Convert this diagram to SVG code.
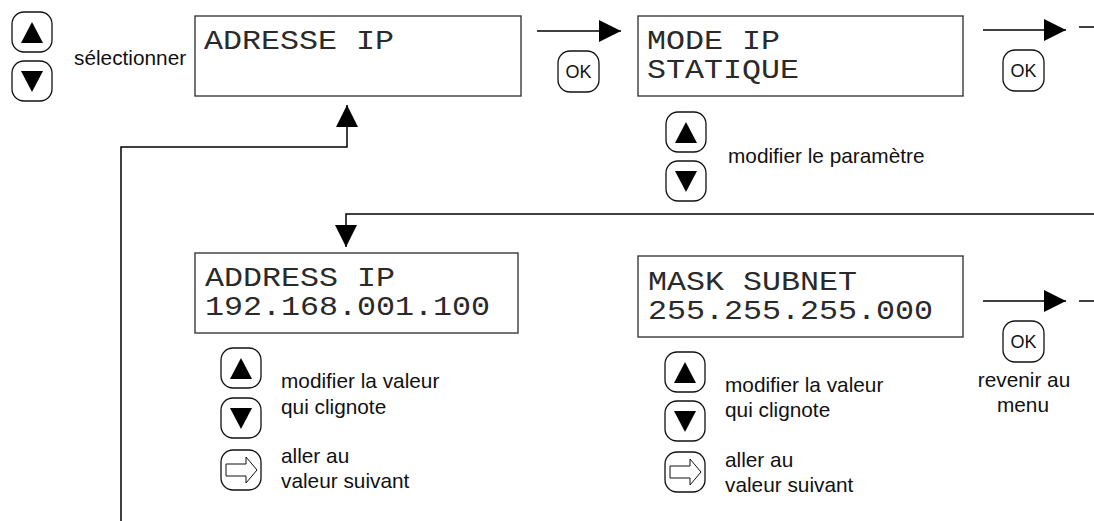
<svg xmlns="http://www.w3.org/2000/svg" xmlns:xlink="http://www.w3.org/1999/xlink" width="1094" height="521" viewBox="0 0 1094 521">
<style>
.box{fill:#fff;stroke:#3a3a3a;stroke-width:1.4}
.lcd{font-family:"Liberation Mono","DejaVu Sans Mono",monospace;font-size:28px;fill:#2a2a2a}
.lbl{font-family:"Liberation Sans",Arial,sans-serif;font-size:20.8px;fill:#111}
.ok{font-family:"Liberation Sans",Arial,sans-serif;font-size:18px;fill:#111;text-anchor:middle}
.btn{fill:#fff;stroke:#111;stroke-width:1.3}
.ln{fill:none;stroke:#000;stroke-width:1.5}
</style>
<defs>
<marker id="ah" markerUnits="userSpaceOnUse" markerWidth="22" markerHeight="22" refX="22" refY="11" orient="auto">
<path d="M0,0 L22,11 L0,22 Z" fill="#000"/>
</marker>
<g id="bUp"><rect class="btn" x="0" y="0" width="40" height="40" rx="12"/><path d="M20,10 L31,31 L9,31 Z" fill="#000"/></g>
<g id="bDown"><rect class="btn" x="0" y="0" width="40" height="40" rx="12"/><path d="M9,10 L31,10 L20,31 Z" fill="#000"/></g>
<g id="bRight"><rect class="btn" x="0" y="0" width="40" height="40" rx="12"/><path d="M5,14 L25,14 L25,7 L36,20 L25,33 L25,26 L5,26 Z" fill="#fff" stroke="#111" stroke-width="1"/></g>
<g id="bOk"><rect class="btn" x="0" y="0" width="41" height="41" rx="12"/><text class="ok" x="20.5" y="27">OK</text></g>
</defs>

<g id="connectors">
<path class="ln" d="M537,31 H621" marker-end="url(#ah)"/>
<path class="ln" d="M983,30 H1066" marker-end="url(#ah)"/>
<path class="ln" d="M1079,27 H1094"/>
<path class="ln" d="M983,301 H1066" marker-end="url(#ah)"/>
<path class="ln" d="M1079,301 H1094"/>
<path class="ln" d="M121,521 V147 H347 V105" marker-end="url(#ah)"/>
<path class="ln" d="M1094,214 H346 V247" marker-end="url(#ah)"/>
</g>

<g id="select-keys">
<use xlink:href="#bUp" x="12" y="12"/>
<use xlink:href="#bDown" x="12" y="61"/>
<text class="lbl" x="74" y="65">sélectionner</text>
</g>

<g id="node-adresse-ip">
<rect class="box" x="195" y="16" width="326" height="80"/>
<text class="lcd" x="204" y="49" textLength="190" lengthAdjust="spacingAndGlyphs">ADRESSE IP</text>
</g>

<g id="ok-1"><use xlink:href="#bOk" x="558" y="51"/></g>

<g id="node-mode-ip">
<rect class="box" x="638" y="16" width="325" height="80"/>
<text class="lcd" x="647" y="49" textLength="133" lengthAdjust="spacingAndGlyphs">MODE IP</text>
<text class="lcd" x="647" y="78" textLength="152" lengthAdjust="spacingAndGlyphs">STATIQUE</text>
</g>

<g id="ok-2"><use xlink:href="#bOk" x="1003" y="50"/></g>

<g id="mode-keys">
<use xlink:href="#bUp" x="666" y="112"/>
<use xlink:href="#bDown" x="666" y="161"/>
<text class="lbl" x="728" y="163">modifier le paramètre</text>
</g>

<g id="node-address-ip">
<rect class="box" x="195" y="253" width="323" height="80"/>
<text class="lcd" x="205" y="286" textLength="190" lengthAdjust="spacingAndGlyphs">ADDRESS IP</text>
<text class="lcd" x="205" y="315" textLength="285" lengthAdjust="spacingAndGlyphs">192.168.001.100</text>
</g>

<g id="address-keys">
<use xlink:href="#bUp" x="221" y="348"/>
<use xlink:href="#bDown" x="221" y="398"/>
<use xlink:href="#bRight" x="221" y="450"/>
<text class="lbl" x="281" y="388">modifier la valeur</text>
<text class="lbl" x="281" y="414">qui clignote</text>
<text class="lbl" x="281" y="463">aller au</text>
<text class="lbl" x="281" y="488">valeur suivant</text>
</g>

<g id="node-mask-subnet">
<rect class="box" x="638" y="256" width="325" height="81"/>
<text class="lcd" x="648" y="290" textLength="209" lengthAdjust="spacingAndGlyphs">MASK SUBNET</text>
<text class="lcd" x="648" y="319" textLength="285" lengthAdjust="spacingAndGlyphs">255.255.255.000</text>
</g>

<g id="mask-keys">
<use xlink:href="#bUp" x="665" y="352"/>
<use xlink:href="#bDown" x="665" y="401"/>
<use xlink:href="#bRight" x="665" y="452"/>
<text class="lbl" x="725" y="392">modifier la valeur</text>
<text class="lbl" x="725" y="417">qui clignote</text>
<text class="lbl" x="725" y="467">aller au</text>
<text class="lbl" x="725" y="492">valeur suivant</text>
</g>

<g id="ok-3">
<use xlink:href="#bOk" x="1003" y="321"/>
<text class="lbl" x="1024" y="387" text-anchor="middle">revenir au</text>
<text class="lbl" x="1023" y="412" text-anchor="middle">menu</text>
</g>
</svg>
